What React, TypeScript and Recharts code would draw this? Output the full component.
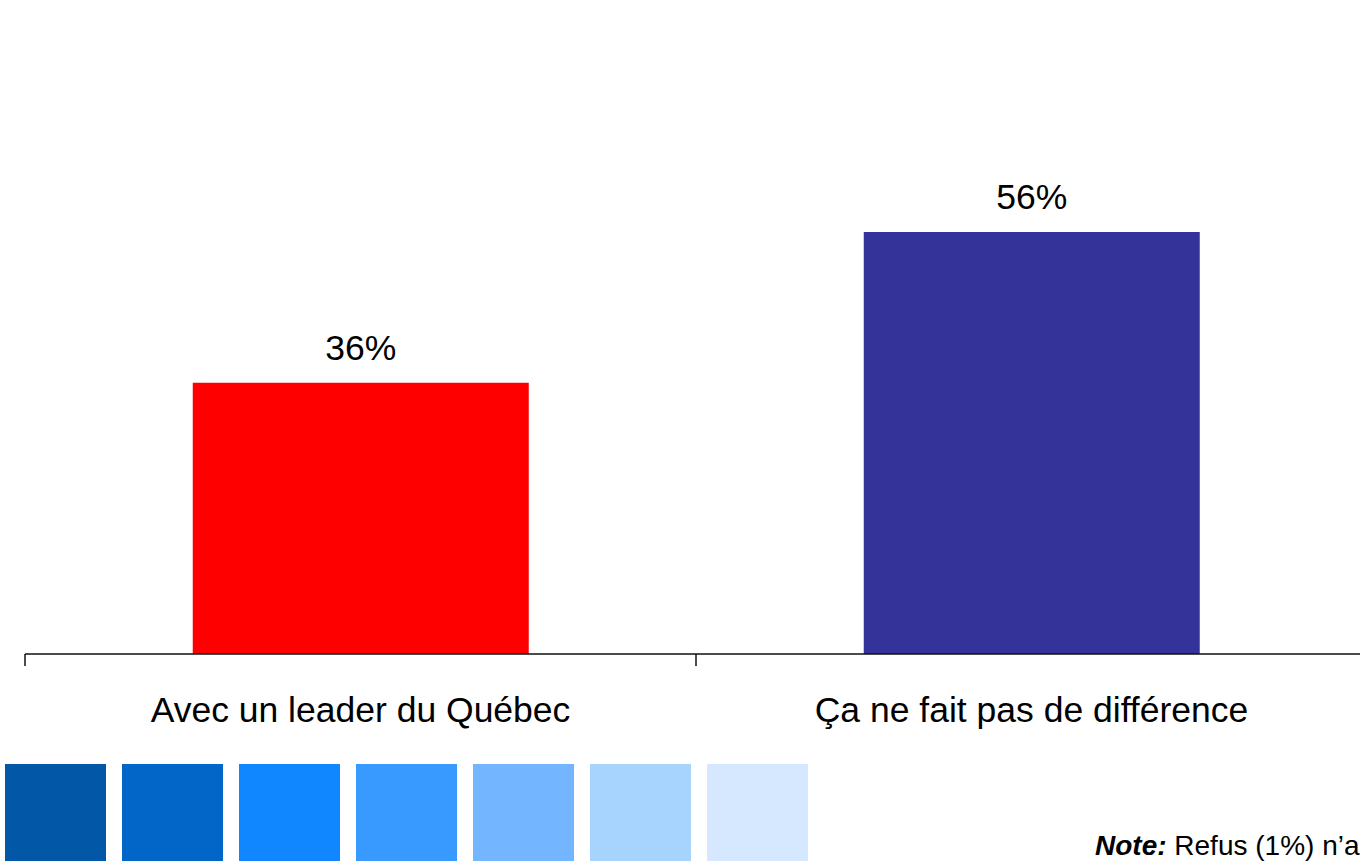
import React from "react";
import { Bar, BarChart, Cell, LabelList, ReferenceLine, XAxis, YAxis } from "recharts";

const categories = ["Avec un leader du Québec", "Ça ne fait pas de différence"];
const shares = [36, 56];
const barColors = ["#ff0000", "#333399"];
const swatchColors = ["#0257a7", "#0265c8", "#1087ff", "#3899ff", "#73b6ff", "#a7d3ff", "#d5e8ff"];

const data = categories.map((name, i) => ({ name, value: shares[i] }));

const FONT = "'Liberation Sans', Arial, Helvetica, sans-serif";
// tick marks hang 12px under the axis; y scale is ~7.54px per point
const TICK_DROP = -1.6;

const CategoryTick = ({ x, y, payload }: any) => (
  <text x={x} y={y + 68} textAnchor="middle" fontSize={35.5} fill="#000" fontFamily={FONT}>
    {payload.value}
  </text>
);

export default function App() {
  return (
    <div
      style={{
        position: "absolute",
        top: 0,
        left: 0,
        width: 1360,
        height: 861,
        overflow: "hidden",
        background: "#fff",
        fontFamily: FONT,
      }}
    >
      <BarChart
        width={1400}
        height={861}
        data={data}
        margin={{ top: 51, right: 33, left: 25, bottom: 0 }}
        barCategoryGap="25%"
      >
        <XAxis
          dataKey="name"
          height={207}
          tickLine={false}
          tickSize={0}
          tickMargin={0}
          axisLine={{ stroke: "#111", strokeWidth: 1.5 }}
          tick={<CategoryTick />}
          interval={0}
        />
        <YAxis hide domain={[0, 80]} />
        {categories.map((c) => (
          <ReferenceLine
            key={c}
            segment={[
              { x: c, y: 0 },
              { x: c, y: TICK_DROP },
            ]}
            position="start"
            ifOverflow="visible"
            stroke="#111"
            strokeWidth={1.5}
          />
        ))}
        <Bar dataKey="value" isAnimationActive={false}>
          {data.map((d, i) => (
            <Cell key={d.name} fill={barColors[i]} />
          ))}
          <LabelList
            dataKey="value"
            position="top"
            offset={23}
            formatter={(v: any) => `${v}%`}
            style={{ fontSize: 35.5, fill: "#000", fontFamily: FONT }}
          />
        </Bar>
      </BarChart>

      <div style={{ position: "absolute", left: 5, top: 764, display: "flex", gap: 16 }}>
        {swatchColors.map((c) => (
          <div key={c} style={{ width: 101, height: 97, background: c }} />
        ))}
      </div>

      <div
        style={{
          position: "absolute",
          left: 1095,
          top: 832,
          fontSize: 28,
          lineHeight: "28px",
          whiteSpace: "nowrap",
          color: "#000",
        }}
      >
        <b>
          <i>Note:</i>
        </b>{" "}
        Refus (1%) n’a
      </div>
    </div>
  );
}
